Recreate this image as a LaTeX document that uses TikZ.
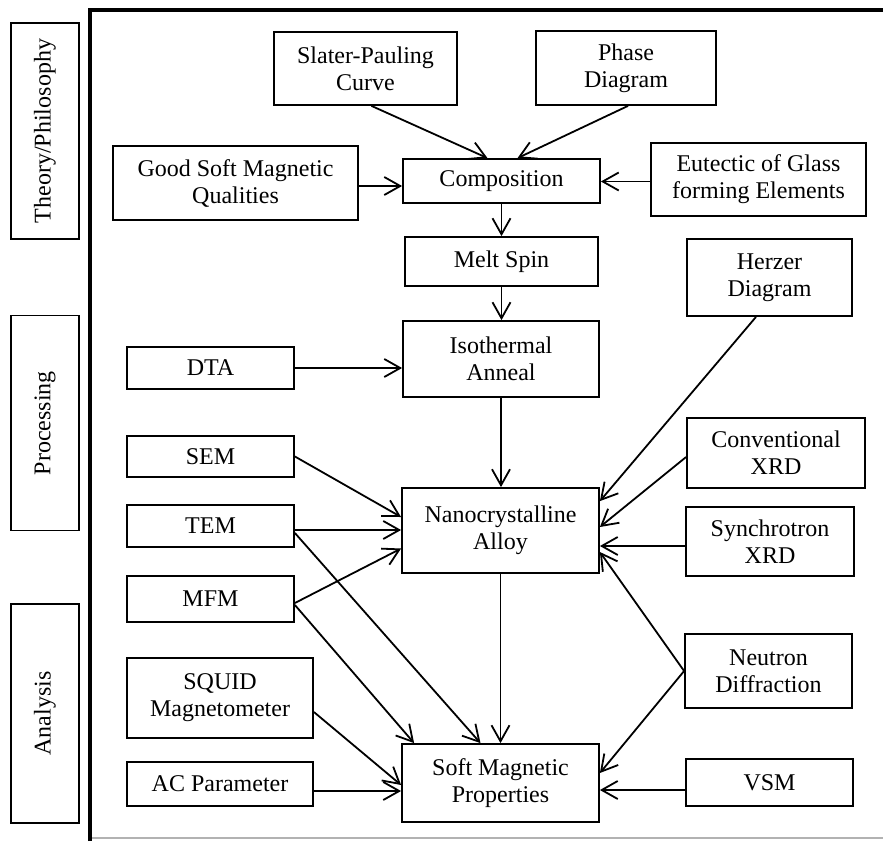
\documentclass[tikz,border=0pt]{standalone}
\usepackage{fontspec}
\setmainfont{Liberation Serif}
\usepackage{tikz}
\usetikzlibrary{arrows.meta, positioning}

\begin{document}
\begin{tikzpicture}[x=0.5pt, y=-0.5pt,
    caja/.style={draw, line width=0.9pt, align=center, inner sep=0pt, font=\fontsize{12}{13.5}\selectfont},
    etapa/.style={caja, rotate=90, minimum height=34pt},
    flecha/.style={line width=0.9pt, -{Straight Barb[length=8pt, width=9pt, line width=0.9pt]}}]
        \useasboundingbox (0,0) rectangle (883,841);
        \draw[gray!60, line width=0.6pt] (90,838) -- (883,838);
        \draw[line width=2pt] (90,841) -- (90,10) -- (883,10);
        \node[etapa, minimum width=108pt] (teoria) at (45,131) {Theory/Philosophy};
        \node[etapa, minimum width=107.5pt] (proceso) at (45,423) {Processing};
        \node[etapa, minimum width=109.5pt] (analisis) at (45,713.5) {Analysis};
        \node[caja, minimum width=91.5pt, minimum height=36.5pt] (slater) at (365.5,68.5) {Slater-Pauling\\ Curve};
        \node[caja, minimum width=90pt, minimum height=37pt] (fase) at (626,68) {Phase\\ Diagram};
        \node[caja, minimum width=122.5pt, minimum height=37pt] (buenas) at (235.5,183) {Good Soft Magnetic\\ Qualities};
        \node[caja, minimum width=98.5pt, minimum height=22pt] (comp) at (501.5,181) {Composition};
        \node[caja, minimum width=107.5pt, minimum height=36.5pt] (eutectico) at (758.5,179.5) {Eutectic of Glass\\ forming Elements};
        \node[caja, minimum width=96.5pt, minimum height=24.5pt] (melt) at (501.5,261.5) {Melt Spin};
        \node[caja, minimum width=82.5pt, minimum height=38.5pt] (herzer) at (769.5,277.5) {Herzer\\ Diagram};
        \node[caja, minimum width=98pt, minimum height=38pt] (recocido) at (501,359) {Isothermal\\ Anneal};
        \node[caja, minimum width=83.5pt, minimum height=21pt] (dta) at (210.5,368) {DTA};
        \node[caja, minimum width=83.5pt, minimum height=20.5pt] (sem) at (210.5,456.5) {SEM};
        \node[caja, minimum width=83.5pt, minimum height=21pt] (tem) at (210.5,526) {TEM};
        \node[caja, minimum width=83.5pt, minimum height=23pt] (mfm) at (210.5,599) {MFM};
        \node[caja, minimum width=98.5pt, minimum height=42.5pt] (nano) at (500.5,530.5) {Nanocrystalline\\ Alloy};
        \node[caja, minimum width=89pt, minimum height=35pt] (convxrd) at (776,453) {Conventional\\ XRD};
        \node[caja, minimum width=84pt, minimum height=34.5pt] (syncxrd) at (770,541.5) {Synchrotron\\ XRD};
        \node[caja, minimum width=83.5pt, minimum height=37pt] (neutron) at (768.5,671) {Neutron\\ Diffraction};
        \node[caja, minimum width=83.5pt, minimum height=23.5pt] (vsm) at (769.5,782.5) {VSM};
        \node[caja, minimum width=98.5pt, minimum height=39pt] (blando) at (500.5,783) {Soft Magnetic\\ Properties};
        \node[caja, minimum width=93pt, minimum height=40pt] (squid) at (220,698) {SQUID\\ Magnetometer};
        \node[caja, minimum width=93pt, minimum height=22pt] (ac) at (220,784) {AC Parameter};
        \draw[flecha] ([xshift=3pt]slater.south) -- ([xshift=-7pt]comp.north);
        \draw[flecha] ([xshift=1pt]fase.south) -- ([xshift=8pt]comp.north);
        \draw[flecha] ([yshift=-1.5pt]buenas.east) -- ([yshift=-1.5pt]buenas.east -| comp.west);
        \draw[flecha] ([yshift=-1pt]eutectico.west) -- ([yshift=-1pt]eutectico.west -| comp.east);
        \draw[flecha] (comp.south) -- (melt.north);
        \draw[flecha] (melt.south) -- (melt.south |- recocido.north);
        \draw[flecha] (dta.east) -- (dta.east -| recocido.west);
        \draw[flecha] (recocido.south) -- (recocido.south |- nano.north);
        \draw[flecha] (sem.east) -- ([yshift=6.75pt]nano.west);
        \draw[flecha] ([yshift=-2pt]tem.east) -- ([yshift=-2pt]tem.east -| nano.west);
        \draw[flecha] ([yshift=-2pt]mfm.east) -- ([yshift=-9pt]nano.west);
        \draw[flecha] ([yshift=-3.5pt]tem.east) -- ([xshift=-10pt]blando.north);
        \draw[flecha] ([yshift=-3pt]mfm.east) -- ([xshift=6.5pt]blando.north west);
        \draw[flecha] ([yshift=-7pt]squid.east) -- ([yshift=-1pt]blando.west);
        \draw[flecha] ([yshift=-3.5pt]ac.east) -- ([yshift=-3.5pt]ac.east -| blando.west);
        \draw[flecha] (nano.south) -- (nano.south |- blando.north);
        \draw[flecha] ([xshift=-6.75pt]herzer.south) -- ([yshift=-7pt]nano.north east);
        \draw[flecha] ([yshift=-2pt]convxrd.west) -- ([yshift=1.75pt]nano.east);
        \draw[flecha] ([yshift=-2.25pt]syncxrd.west) -- ([yshift=-2.25pt]syncxrd.west -| nano.east);
        \draw[flecha] (neutron.west) -- ([yshift=-10.75pt]nano.east);
        \draw[flecha] (neutron.west) -- ([yshift=5pt]blando.east);
        \draw[flecha] ([yshift=-3.75pt]vsm.west) -- ([yshift=-3.75pt]vsm.west -| blando.east);
    \end{tikzpicture}
\end{document}
